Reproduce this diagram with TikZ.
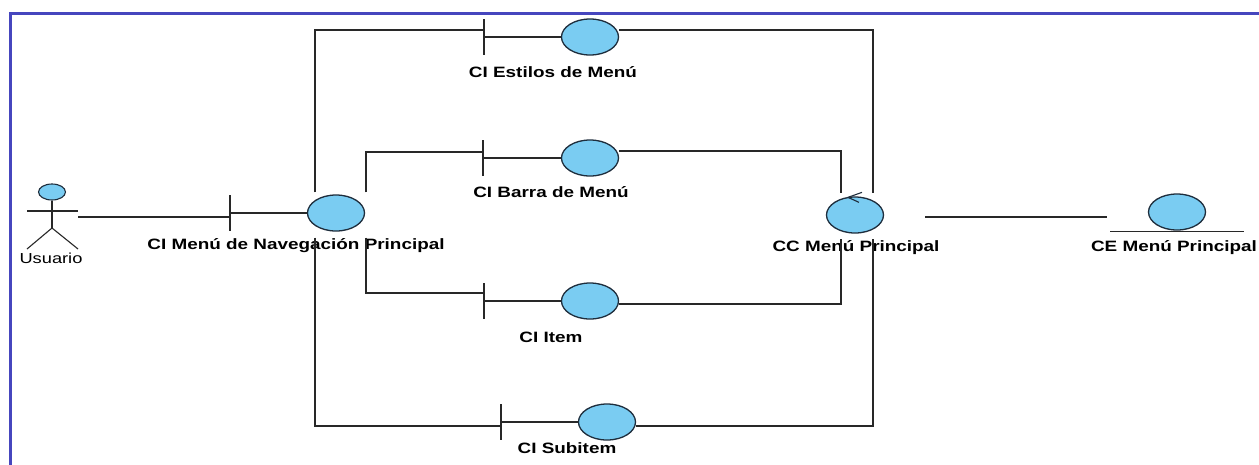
\documentclass[tikz,border=0pt]{standalone}
\usepackage{fontspec}
\setmainfont{Liberation Sans}
\usetikzlibrary{shapes.geometric,calc}
\definecolor{frameblue}{RGB}{70,70,190}
\definecolor{objfill}{RGB}{122,204,242}
\definecolor{objline}{RGB}{30,45,60}
\definecolor{wirecol}{RGB}{40,40,40}
\newcommand\stretchtext[1]{\scalebox{1.26}[1]{#1}}
\begin{document}
\begin{tikzpicture}[x=1pt,y=-1pt,
  obj/.style={ellipse,draw=objline,fill=objfill,line width=1.3pt,minimum width=57pt,minimum height=36pt,inner sep=0pt},
  lbl/.style={font=\fontsize{15}{17}\selectfont\bfseries,inner sep=0pt},
  plainlbl/.style={font=\fontsize{14.5}{16}\selectfont,inner sep=0pt},
  wire/.style={draw=wirecol,line width=1.2pt},
  bnd/.style={draw=wirecol,line width=1.2pt}]
\useasboundingbox (0,0) rectangle (1259,464);
\fill[white] (0,0) rectangle (1259,464);
\draw[frameblue,line width=3pt] (10,465) -- (10,13) -- (1260,13);

% labels
\node[lbl] (navL) at (296,246) {\stretchtext{CI Menú de Navegación Principal}};
\node[lbl] (estL) at (553,72) {\stretchtext{CI Estilos de Menú}};
\node[lbl] (barL) at (551,192) {\stretchtext{CI Barra de Menú}};
\node[lbl] (itemL) at (551,337) {\stretchtext{CI Item}};
\node[lbl] (subL) at (567,448) {\stretchtext{CI Subitem}};
\node[lbl] (ccL) at (856,248) {\stretchtext{CC Menú Principal}};
\node[lbl] (ceL) at (1174,248) {\stretchtext{CE Menú Principal}};
\node[plainlbl] (usrL) at (51,258) {\stretchtext{Usuario}};

% objects
\node[obj] (nav) at (336,213) {};
\node[obj] (est) at (590,37) {};
\node[obj] (bar) at (590,158) {};
\node[obj] (item) at (590,301) {};
\node[obj] (sub) at (607,422) {};
\node[obj] (cc) at (855,215) {};
\node[obj] (ce) at (1177,212) {};

% boundary symbols
\coordinate (navB) at (230,213);
\coordinate (estB) at (484,37);
\coordinate (barB) at (483,158);
\coordinate (itemB) at (484,301);
\coordinate (subB) at (501,422);
\foreach \b/\o in {navB/nav,estB/est,barB/bar,itemB/item,subB/sub}{
  \draw[bnd] ([yshift=18pt]\b) -- ([yshift=-18pt]\b);
  \draw[bnd] (\b) -- (\o.west);
}

% entity underline
\draw[bnd] ([xshift=-67pt,yshift=-1pt]ce.south) -- ([xshift=67pt,yshift=-1pt]ce.south);
% control arrow
\draw[objline,line width=1.1pt] ([xshift=7pt,yshift=4pt]cc.north) -- ([xshift=-7pt,yshift=-1pt]cc.north) -- ([xshift=4pt,yshift=-6pt]cc.north);

% actor
\node[ellipse,draw=objline,fill=objfill,line width=1.1pt,minimum width=27pt,minimum height=16pt,inner sep=0pt] (head) at (52,192) {};
\draw[wirecol,line width=1.1pt] (head.south) -- (52,228) coordinate (hip);
\draw[wirecol,line width=1.1pt] (27,211) -- (78,211);
\draw[wirecol,line width=1.1pt] (27,249) -- (hip) -- (78,249);
\coordinate (hand) at (78,217);

% connectors
\draw[wire] (hand) -- ([yshift=-4pt]navB);
\draw[wire] ([xshift=-21pt,yshift=2pt]nav.north) |- ([yshift=7pt]estB);
\draw[wire] ([yshift=7pt]est.east) -| ([xshift=18pt,yshift=3pt]cc.north);
\draw[wire] ([xshift=30pt,yshift=2pt]nav.north) |- ([yshift=6pt]barB);
\draw[wire] ([yshift=7pt]bar.east) -| ([xshift=-14pt,yshift=3pt]cc.north);
\draw[wire] ([xshift=30pt,yshift=-6pt]nav.south) |- ([yshift=8pt]itemB);
\draw[wire] ([yshift=-3pt]item.east) -| ([xshift=-14pt,yshift=-5pt]cc.south);
\draw[wire] ([xshift=-21pt,yshift=-6pt]nav.south) |- ([yshift=-4pt]subB);
\draw[wire] ([yshift=-4pt]sub.east) -| ([xshift=18pt,yshift=-5pt]cc.south);
\draw[wire] ([xshift=41pt,yshift=-2pt]cc.east) -- ($(cc.east -| ce.west)+(-41,2)$);
\end{tikzpicture}
\end{document}
